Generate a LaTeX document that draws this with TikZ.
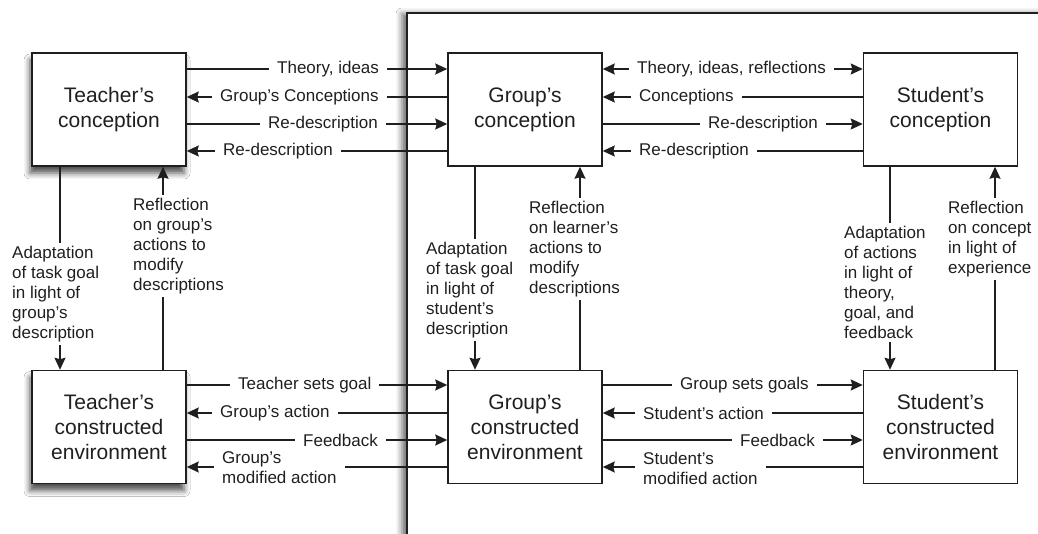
\documentclass[tikz,border=0pt]{standalone}
\usepackage{fontspec}
\setmainfont{Liberation Sans}
\usetikzlibrary{arrows.meta,shadows.blur,calc}
\definecolor{ink}{gray}{0.12}
\tikzset{
  box/.style={draw=ink, line width=1.5pt, fill=white, minimum width=154pt, minimum height=113pt,
    inner sep=0pt, align=center, text=ink, font=\fontsize{21}{25}\selectfont},
  shbox/.style={blur shadow={shadow xshift=-2pt, shadow yshift=-7pt, shadow blur radius=6pt, shadow opacity=70}},
  conn/.style={draw=ink, line width=1.4pt},
  arr/.style={conn, -{Stealth[length=12pt,width=11pt,inset=1.5pt]}},
  dblarr/.style={conn, {Stealth[length=12pt,width=11pt,inset=1.5pt]}-{Stealth[length=12pt,width=11pt,inset=1.5pt]}},
  lbl/.style={fill=white, text=ink, inner xsep=8pt, inner ysep=2pt, align=left, anchor=west,
    font=\fontsize{17}{20}\selectfont},
  vlbl/.style={fill=white, text=ink, inner sep=3pt, align=left, anchor=north west,
    font=\fontsize{17}{20}\selectfont},
}
\begin{document}
\begin{tikzpicture}[x=1pt,y=-1pt]
\useasboundingbox (0,0) rectangle (1038,534);
\fill[white] (0,0) rectangle (1038,534);
% frame
\draw[draw=ink, line width=1.5pt, fill=white,
  blur shadow={shadow xshift=-5pt, shadow yshift=-1pt, shadow blur radius=6pt, shadow opacity=60}]
  (407,13) rectangle (1120,620);

% boxes
\node[box, shbox] (tc) at (109,109.5) {Teacher's\\conception};
\node[box, shbox] (te) at (109,427) {Teacher's\\constructed\\environment};
\node[box] (gc) at (525,109.5) {Group's\\conception};
\node[box] (ge) at (525,427) {Group's\\constructed\\environment};
\node[box] (sc) at (940.5,109.5) {Student's\\conception};
\node[box] (se) at (940.5,427) {Student's\\constructed\\environment};

% rows
\coordinate (r1) at (0,69);
\coordinate (r2) at (0,97);
\coordinate (r3) at (0,124);
\coordinate (r4) at (0,151);
\coordinate (b1) at (0,385);
\coordinate (b2) at (0,413);
\coordinate (b3) at (0,440);
\coordinate (b4) at (0,467);

% teacher <-> group, top
\draw[arr] (tc.east |- r1) -- (gc.west |- r1);
\draw[arr] (gc.west |- r2) -- (tc.east |- r2);
\draw[arr] (tc.east |- r3) -- (gc.west |- r3);
\draw[arr] (gc.west |- r4) -- (tc.east |- r4);
\node[lbl] at (269,69) {Theory, ideas};
\node[lbl] at (212,97) {Group's Conceptions};
\node[lbl] at (260,124) {Re-description};
\node[lbl] at (215,151) {Re-description};

% group <-> student, top
\draw[dblarr] (gc.east |- r1) -- (sc.west |- r1);
\draw[arr] (sc.west |- r2) -- (gc.east |- r2);
\draw[arr] (gc.east |- r3) -- (sc.west |- r3);
\draw[arr] (sc.west |- r4) -- (gc.east |- r4);
\node[lbl] at (629,69) {Theory, ideas, reflections};
\node[lbl] at (631,97) {Conceptions};
\node[lbl] at (700,124) {Re-description};
\node[lbl] at (631,151) {Re-description};

% teacher <-> group, bottom
\draw[arr] (te.east |- b1) -- (ge.west |- b1);
\draw[arr] (ge.west |- b2) -- (te.east |- b2);
\draw[arr] (te.east |- b3) -- (ge.west |- b3);
\draw[arr] (ge.west |- b4) -- (te.east |- b4);
\node[lbl] at (230,385) {Teacher sets goal};
\node[lbl] at (212,413) {Group's action};
\node[lbl] at (295,440) {Feedback};
\node[lbl] at (214,468) {Group's\\modified action};

% group <-> student, bottom
\draw[arr] (ge.east |- b1) -- (se.west |- b1);
\draw[arr] (se.west |- b2) -- (ge.east |- b2);
\draw[arr] (ge.east |- b3) -- (se.west |- b3);
\draw[arr] (se.west |- b4) -- (ge.east |- b4);
\node[lbl] at (672,385) {Group sets goals};
\node[lbl] at (635,413) {Student's action};
\node[lbl] at (732,440) {Feedback};
\node[lbl] at (635,468) {Student's\\modified action};

% vertical connectors
\coordinate (vt1) at (60,0);
\coordinate (vt2) at (163,0);
\coordinate (vg1) at (475,0);
\coordinate (vg2) at (580,0);
\coordinate (vs1) at (890,0);
\coordinate (vs2) at (995,0);
\draw[arr] (tc.south -| vt1) -- (te.north -| vt1);
\draw[arr] (te.north -| vt2) -- (tc.south -| vt2);
\draw[arr] (gc.south -| vg1) -- (ge.north -| vg1);
\draw[arr] (ge.north -| vg2) -- (gc.south -| vg2);
\draw[arr] (sc.south -| vs1) -- (se.north -| vs1);
\draw[arr] (se.north -| vs2) -- (sc.south -| vs2);

\node[vlbl] at (9,243) {Adaptation\\of task goal\\in light of\\group's\\description};
\node[vlbl] at (130,195) {Reflection\\on group's\\actions to\\modify\\descriptions};
\node[vlbl] at (423,239) {Adaptation\\of task goal\\in light of\\student's\\description};
\node[vlbl] at (526,198) {Reflection\\on learner's\\actions to\\modify\\descriptions};
\node[vlbl] at (841,223) {Adaptation\\of actions\\in light of\\theory,\\goal, and\\feedback};
\node[vlbl] at (945,198) {Reflection\\on concept\\in light of\\experience};
\end{tikzpicture}
\end{document}
